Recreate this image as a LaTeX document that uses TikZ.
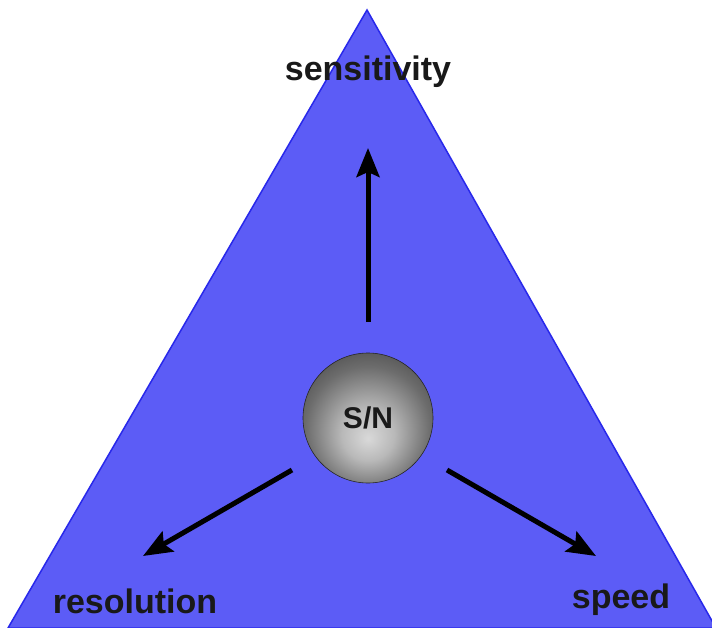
\documentclass[tikz,border=0pt]{standalone}
\usepackage{fontspec}
\setmainfont{Liberation Sans}
\usetikzlibrary{arrows.meta}
\definecolor{trifill}{RGB}{92,92,246}
\definecolor{triedge}{RGB}{40,40,235}
\pgfdeclareradialshading{snball}{\pgfpoint{0bp}{-8bp}}{%
  color(0bp)=(gray!30);
  color(10bp)=(gray!55);
  color(24bp)=(gray!85!black);
  color(36bp)=(gray!50!black);
  color(50bp)=(gray!50!black)}
\begin{document}
\begin{tikzpicture}[x=1pt,y=-1pt,
  lbl/.style={font=\fontsize{34}{40}\selectfont\bfseries, text=black!90},
  arr/.style={line width=5pt, -{Stealth[length=29pt,width=23pt,inset=5pt]}, black}]
\useasboundingbox (0,0) rectangle (712,628);
\fill[white] (0,0) rectangle (712,628);
\coordinate (apex) at (367,10);
\coordinate (bl) at (8,628);
\coordinate (br) at (716,628);
\draw[fill=trifill, draw=triedge, line width=1.5pt] (apex) -- (bl) -- (br) -- cycle;
\node[circle, minimum size=130pt, inner sep=0pt, shading=snball, draw=gray!30!black, line width=0.6pt] (sn) at (368,418) {};
\node[lbl, font=\fontsize{30}{36}\selectfont\bfseries] at (sn) {S/N};
\node[lbl] (sens) at (368,72) {sensitivity};
\node[lbl] (res) at (135,601) {resolution};
\node[lbl] (spd) at (621,600) {speed};
\coordinate (upS) at (368,322);
\coordinate (upE) at (368,148);
\coordinate (lS) at (292,470);
\coordinate (lE) at (143,556);
\coordinate (rS) at (447,470);
\coordinate (rE) at (596,556);
\draw[arr] (upS) -- (upE);
\draw[arr] (lS) -- (lE);
\draw[arr] (rS) -- (rE);
\end{tikzpicture}
\end{document}
